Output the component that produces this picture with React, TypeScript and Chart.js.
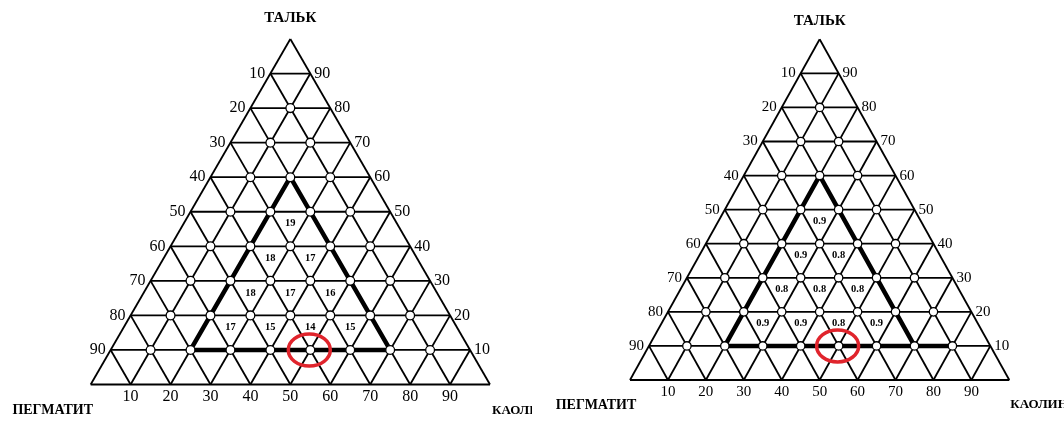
import { useEffect, useRef } from "react";
import { Chart, registerables } from "chart.js";

Chart.register(...registerables);

// Grid levels (percent) shared by all three components
const gridLevels = [10, 20, 30, 40, 50, 60, 70, 80, 90];
const axisTitles = { top: "ТАЛЬК", left: "ПЕГМАТИТ", right: "КАОЛИН" };

// Values written inside the cells of the outlined region, one row per band (top to bottom)
const leftCellValues = [[19], [18, 17], [18, 17, 16], [17, 15, 14, 15]];
const rightCellValues = [[0.9], [0.9, 0.8], [0.8, 0.8, 0.8], [0.9, 0.9, 0.8, 0.9]];

// Outlined region, segments given as [talc, kaolin] compositions
const leftOutline = [
  [[60, 20], [10, 20]],
  [[10, 20], [10, 70]],
  [[10, 70], [60, 20]],
];
const rightOutline = [
  [[60, 20], [10, 20]],
  [[10, 20], [10, 80]],
  [[10, 70], [60, 20]],
];

// Highlighted composition [talc, kaolin]
const markedPoint = [10, 50];

type Panel = {
  cells: number[][];
  outline: number[][][];
  format: (v: number) => string;
  xRange: [number, number];
  yRange: [number, number];
  tickFont: number;
  nodeRadius: number;
  baseLabelOffset: number;
  titleOffsets: { top: number; leftX: number; leftY: number; rightX: number; rightY: number };
};

const leftPanel: Panel = {
  cells: leftCellValues,
  outline: leftOutline,
  format: (v) => String(v),
  xRange: [-22.71, 110.52],
  yRange: [-11.14, 111.29],
  tickFont: 16,
  nodeRadius: 4.4,
  baseLabelOffset: 12,
  titleOffsets: { top: 21, leftX: -38, leftY: 26, rightX: 2, rightY: 26 },
};

const rightPanel: Panel = {
  cells: rightCellValues,
  outline: rightOutline,
  format: (v) => v.toFixed(1),
  xRange: [-25.84, 114.42],
  yRange: [-12.62, 111.53],
  tickFont: 15,
  nodeRadius: 4.2,
  baseLabelOffset: 12,
  titleOffsets: { top: 18, leftX: -34, leftY: 25, rightX: 1, rightY: 25 },
};

// talc / kaolin percentages -> plane coordinates
const toXY = (talc: number, kaolin: number) => ({ x: kaolin + talc / 2, y: talc });

const FONT = "'Liberation Serif', 'Times New Roman', serif";

function buildDatasets(panel: Panel) {
  const sets: any[] = [];
  const thin = (a: { x: number; y: number }, b: { x: number; y: number }) =>
    sets.push({
      type: "line",
      data: [a, b],
      borderColor: "#000",
      borderWidth: 1.8,
      pointRadius: 0,
      order: 3,
    });
  // outer triangle
  thin(toXY(0, 0), toXY(0, 100));
  thin(toXY(0, 100), toXY(100, 0));
  thin(toXY(100, 0), toXY(0, 0));
  for (const c of gridLevels) {
    thin(toXY(c, 0), toXY(c, 100 - c)); // talc = c
    thin(toXY(0, c), toXY(100 - c, c)); // kaolin = c
    thin(toXY(0, 100 - c), toXY(100 - c, 0)); // pegmatite = c
  }
  for (const [a, b] of panel.outline) {
    sets.push({
      type: "line",
      data: [toXY(a[0], a[1]), toXY(b[0], b[1])],
      borderColor: "#000",
      borderWidth: 4.5,
      borderCapStyle: "round",
      pointRadius: 0,
      order: 2,
    });
  }
  const nodes: { x: number; y: number }[] = [];
  for (const t of gridLevels) {
    for (const k of gridLevels) {
      if (t + k <= 90) nodes.push(toXY(t, k));
    }
  }
  sets.push({
    type: "scatter",
    data: nodes,
    pointRadius: panel.nodeRadius,
    pointBackgroundColor: "#fff",
    pointBorderColor: "#000",
    pointBorderWidth: 1.3,
    order: 1,
  });
  return sets;
}

function annotations(panel: Panel) {
  return {
    id: "ternaryText",
    afterDatasetsDraw(chart: any) {
      const { ctx } = chart;
      const sx = chart.scales.x;
      const sy = chart.scales.y;
      const px = (talc: number, kaolin: number) => {
        const p = toXY(talc, kaolin);
        return [sx.getPixelForValue(p.x), sy.getPixelForValue(p.y)];
      };
      ctx.save();
      ctx.fillStyle = "#000";
      ctx.textBaseline = "middle";
      ctx.font = `${panel.tickFont}px ${FONT}`;
      for (const c of gridLevels) {
        // pegmatite on the left edge
        let [x, y] = px(100 - c, 0);
        ctx.textAlign = "right";
        ctx.fillText(String(c), x - 5, y);
        // talc on the right edge
        [x, y] = px(c, 100 - c);
        ctx.textAlign = "left";
        ctx.fillText(String(c), x + 4, y);
        // kaolin along the base
        [x, y] = px(0, c);
        ctx.textAlign = "center";
        ctx.fillText(String(c), x, y + panel.baseLabelOffset);
      }

      // cell values: downward cells of the outlined region
      ctx.font = `bold 10.5px ${FONT}`;
      ctx.textAlign = "center";
      panel.cells.forEach((row, r) => {
        row.forEach((v, c) => {
          const talc = 100 - 10 * (5 + r) - 10 / 3;
          const kaolin = 10 * (2 + c) + 20 / 3;
          const [x, y] = px(talc, kaolin);
          ctx.fillText(panel.format(v), x, y + 0.5);
        });
      });

      // component titles
      const o = panel.titleOffsets;
      ctx.font = `bold 15px ${FONT}`;
      let [x, y] = px(100, 0);
      ctx.textAlign = "center";
      ctx.fillText(axisTitles.top, x, y - o.top);
      ctx.font = `bold 14px ${FONT}`;
      [x, y] = px(0, 0);
      ctx.fillText(axisTitles.left, x + o.leftX, y + o.leftY);
      ctx.font = `bold 13px ${FONT}`;
      [x, y] = px(0, 100);
      ctx.textAlign = "left";
      ctx.fillText(axisTitles.right, x + o.rightX, y + o.rightY);

      // highlighted composition
      [x, y] = px(markedPoint[0], markedPoint[1]);
      ctx.strokeStyle = "#e0242c";
      ctx.lineWidth = 3.5;
      ctx.beginPath();
      ctx.ellipse(x - 1, y, 21, 16, 0, 0, Math.PI * 2);
      ctx.stroke();
      ctx.restore();
    },
  };
}

function TernaryPanel({ panel, left }: { panel: Panel; left: number }) {
  const ref = useRef<HTMLCanvasElement>(null);
  useEffect(() => {
    if (!ref.current) return;
    const chart = new Chart(ref.current, {
      type: "scatter",
      data: { datasets: buildDatasets(panel) },
      options: {
        animation: false,
        responsive: false,
        events: [],
        layout: { padding: 0, autoPadding: false },
        plugins: { legend: { display: false }, tooltip: { enabled: false } },
        scales: {
          x: { type: "linear", display: false, min: panel.xRange[0], max: panel.xRange[1] },
          y: { type: "linear", display: false, min: panel.yRange[0], max: panel.yRange[1] },
        },
      },
      plugins: [annotations(panel)],
    });
    return () => chart.destroy();
  }, [panel]);
  return (
    <canvas
      ref={ref}
      width={532}
      height={423}
      style={{ position: "absolute", left, top: 0, width: 532, height: 423 }}
    />
  );
}

export default function App() {
  return (
    <div style={{ position: "absolute", left: 0, top: 0, width: 1064, height: 423, background: "#fff" }}>
      <TernaryPanel panel={leftPanel} left={0} />
      <TernaryPanel panel={rightPanel} left={532} />
    </div>
  );
}
